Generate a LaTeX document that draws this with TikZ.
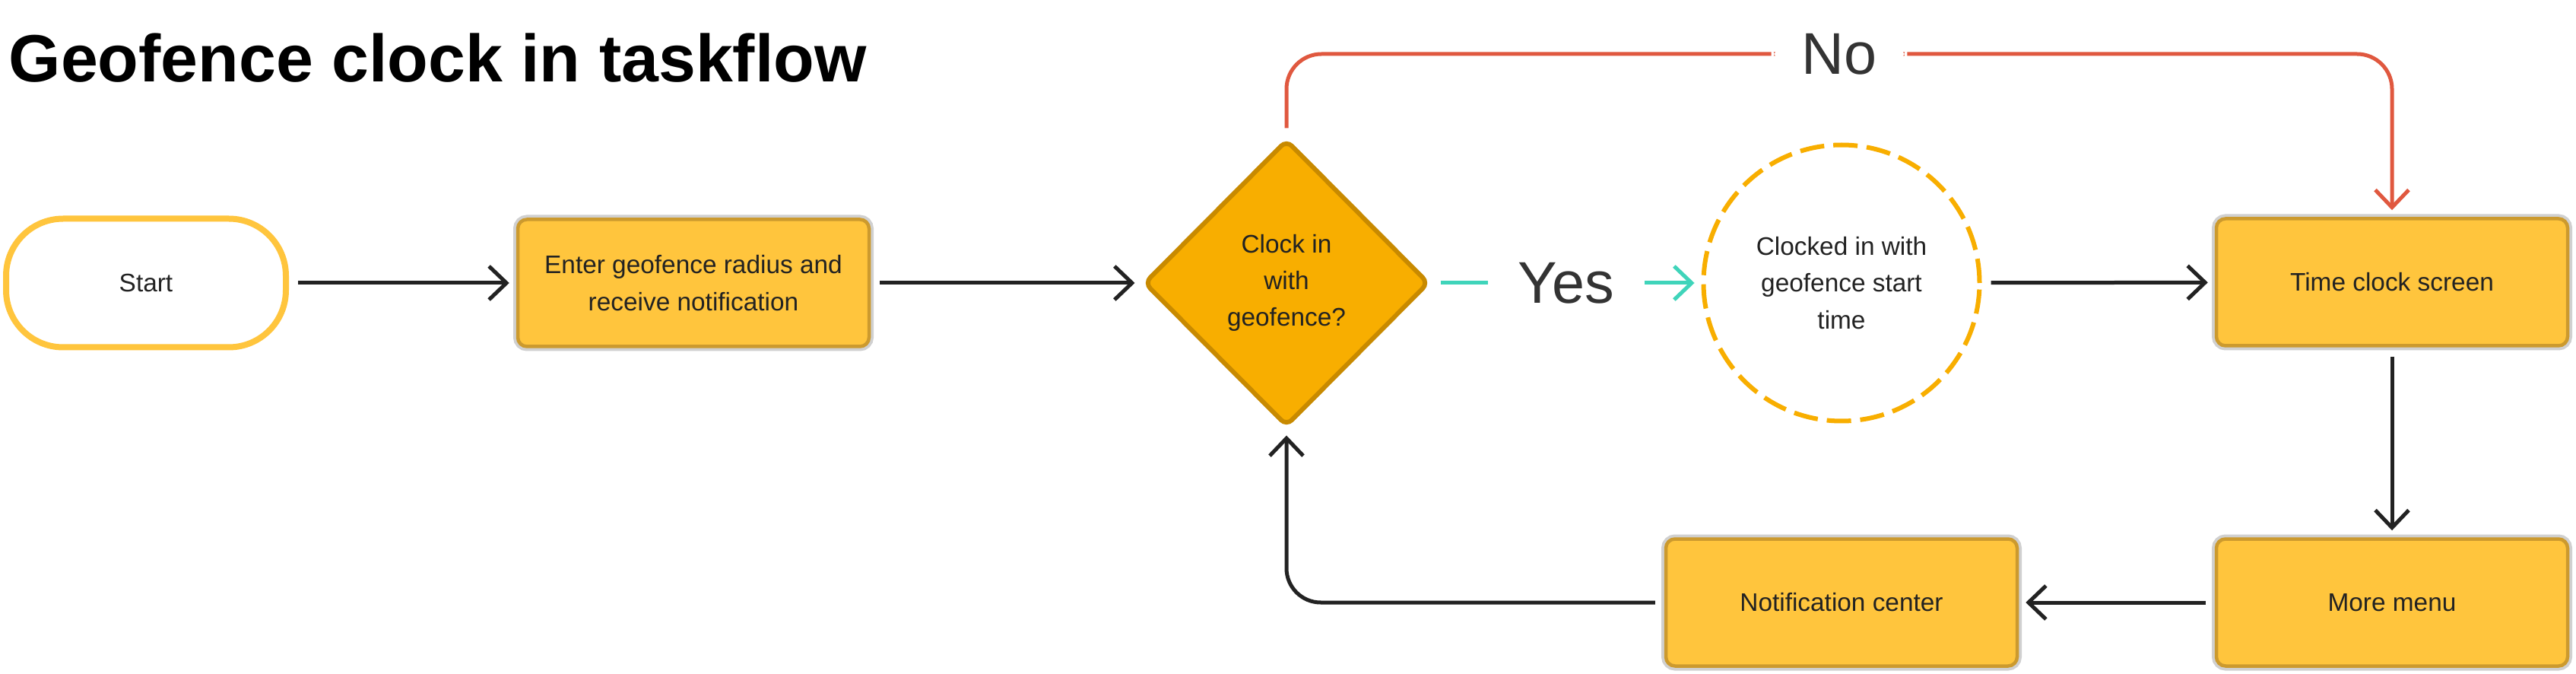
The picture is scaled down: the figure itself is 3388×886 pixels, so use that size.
\documentclass[tikz,border=0pt]{standalone}
\usepackage{fontspec}
\setmainfont{Liberation Sans}
\usetikzlibrary{arrows.meta,shapes.geometric}
\definecolor{boxfill}{HTML}{FFC53D}
\definecolor{boxedge}{HTML}{CC9A2E}
\definecolor{halo}{HTML}{D0D0D0}
\definecolor{amber}{HTML}{F8AE00}
\definecolor{amberedge}{HTML}{C88A00}
\definecolor{ink}{HTML}{222222}
\definecolor{labelink}{HTML}{333333}
\definecolor{noline}{HTML}{E0583F}
\definecolor{yesline}{HTML}{3FD4BA}
\begin{document}
\begin{tikzpicture}[x=0.1mm,y=-0.1mm,
    box/.style={draw=boxedge,fill=boxfill,line width=0.45mm,rounded corners=1.2mm,
        preaction={draw=halo,line width=1.2mm},
        minimum width=46.2mm,minimum height=16.7mm,inner sep=0,
        text=ink,align=center,font=\fontsize{9.5}{13.7}\selectfont},
    link/.style={draw=ink,line width=0.5mm,-{Straight Barb[length=2.3mm,width=4.4mm]},
        shorten <=1.2mm,shorten >=0.9mm},
    tag/.style={fill=white,inner xsep=4mm,inner ysep=0,text=labelink,
        font=\fontsize{22}{22}\selectfont}]
    \useasboundingbox[fill=white] (0,0) rectangle (3388,886);
    % title
    \node[anchor=base west,inner sep=0,font=\fontsize{25}{30}\selectfont\bfseries] (title) at (11,108) {Geofence clock in taskflow};
    % top row
    \node[draw=boxfill,fill=white,line width=0.8mm,rounded corners=7.5mm,minimum width=36.8mm,minimum height=16.9mm,
        text=ink,font=\fontsize{9.5}{13.7}\selectfont] (start) at (192,372) {Start};
    \node[box] (enter) at (912,372) {Enter geofence radius and\\receive notification};
    \node[diamond,draw=amberedge,fill=amber,line width=0.6mm,rounded corners=1mm,minimum width=37.5mm,minimum height=37.7mm,
        inner sep=0,text=ink,align=center,font=\fontsize{9.5}{13.7}\selectfont] (dia) at (1692,372) {Clock in\\with\\geofence?};
    \node[circle,draw=amber,line width=0.6mm,dash pattern=on 3.2mm off 1.2mm,minimum size=36.3mm,inner sep=0,
        text=ink,align=center,font=\fontsize{9.5}{13.7}\selectfont] (circ) at (2422,372) {Clocked in with\\geofence start\\time};
    \node[box] (tc) at (3146,371) {Time clock screen};
    % bottom row
    \node[box] (more) at (3146,792) {More menu};
    \node[box] (notif) at (2422,792) {Notification center};
    \coordinate (nolevel) at (0,71);
    % connectors
    \draw[link] (start) -- (enter);
    \draw[link] (enter) -- (dia);
    \draw[link,draw=yesline] (dia.east) -- node[tag]{Yes} (circ.west);
    \draw[link,draw=noline,rounded corners=4.6mm] (dia.north) -- (dia.north |- nolevel) -- node[tag]{No} (tc.north |- nolevel) -- (tc.north);
    \draw[link] (circ) -- (tc);
    \draw[link] (tc) -- (more);
    \draw[link] (more) -- (notif);
    \draw[link,rounded corners=4.5mm] (notif.west) -| (dia.south);
\end{tikzpicture}
\end{document}
